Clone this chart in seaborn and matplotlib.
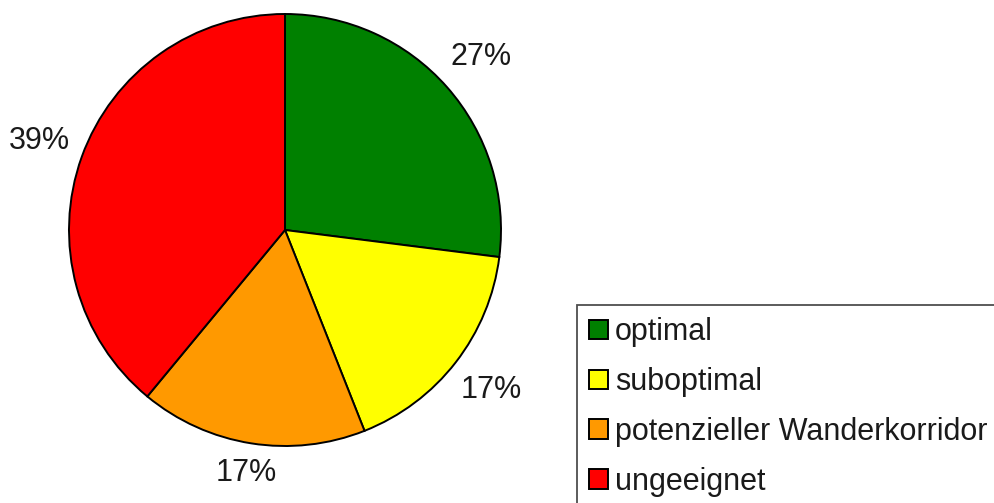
import matplotlib
matplotlib.use("Agg")
import numpy as np
import matplotlib.pyplot as plt
import seaborn as sns

# Habitat suitability shares
categories = ["optimal", "suboptimal", "potenzieller Wanderkorridor", "ungeeignet"]
shares = [27, 17, 17, 39]
colors = ["#008000", "#FFFF00", "#FF9900", "#FF0000"]

sns.set_theme(style="white")
plt.rcParams["font.family"] = ["Liberation Sans", "DejaVu Sans"]

W, H = 994, 503
fig = plt.figure(figsize=(W / 100, H / 100), dpi=100)
fig.patch.set_facecolor("white")

# pie axes: centre (285, 230) px, radius 216 px
cx, cy, r = 285, 230, 216
ax = fig.add_axes([(cx - r) / W, 1 - (cy + r) / H, 2 * r / W, 2 * r / H])

wedges, texts, autotexts = ax.pie(
    shares,
    colors=sns.color_palette(colors),
    startangle=90,
    counterclock=False,
    radius=1.0,
    autopct="%.0f%%",
    pctdistance=1.21,
    wedgeprops=dict(edgecolor="black", linewidth=1.4),
    textprops=dict(fontsize=22, color="#1a1a1a"),
)

# pull the bottom label a little closer to its wedge
w = wedges[2]
mid = np.deg2rad((w.theta1 + w.theta2) / 2)
autotexts[2].set_position((1.14 * np.cos(mid), 1.14 * np.sin(mid)))

ax.set_xlim(-1, 1)
ax.set_ylim(-1, 1)
ax.set_aspect("auto")
ax.axis("off")

leg = fig.legend(
    wedges,
    categories,
    loc="upper left",
    bbox_to_anchor=(577 / W, 1 - 305 / H),
    borderaxespad=0,
    fontsize=22,
    frameon=True,
    fancybox=False,
    handlelength=0.6,
    handleheight=0.6,
    handletextpad=0.25,
    labelspacing=0.65,
    borderpad=0.4,
)
frame = leg.get_frame()
frame.set_edgecolor("#222222")
frame.set_linewidth(1.3)
for t in leg.get_texts():
    t.set_color("#1a1a1a")

fig.savefig("out.png", dpi=100, facecolor="white")
